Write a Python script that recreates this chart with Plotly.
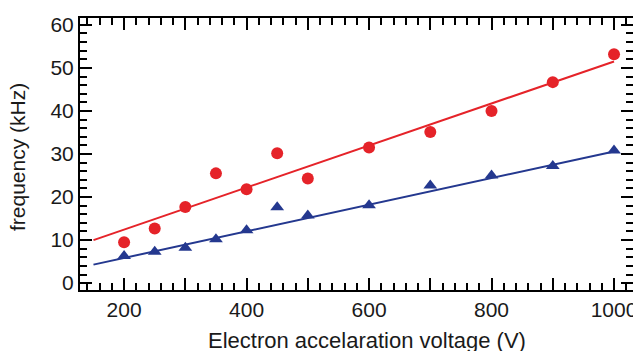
import plotly.graph_objects as go

voltage = [200, 250, 300, 350, 400, 450, 500, 600, 700, 800, 900, 1000]
freq_red = [9.5, 12.7, 17.7, 25.5, 21.8, 30.2, 24.3, 31.5, 35.1, 40.0, 46.7, 53.2]
freq_blue = [6.3, 7.3, 8.2, 10.2, 12.3, 17.6, 15.7, 18.1, 22.7, 25.0, 27.2, 30.8]

fit_x = [150, 1000]
fit_red = [10.0, 51.5]
fit_blue = [4.3, 30.6]

x_tickvals = [200, 300, 400, 500, 600, 700, 800, 900, 1000]
x_ticktext = ["200", "", "400", "", "600", "", "800", "", "1000"]
y_tickvals = [0, 10, 20, 30, 40, 50, 60]

x_title = "Electron accelaration voltage (V)"
y_title = "frequency (kHz)"

RED = "#e52329"
BLUE = "#24388f"
FONT = "Liberation Sans, Arial, sans-serif"
TXT = "#1a1a1a"

fig = go.Figure()
fig.add_trace(go.Scatter(x=fit_x, y=fit_red, mode="lines",
                         line=dict(color=RED, width=2), showlegend=False))
fig.add_trace(go.Scatter(x=fit_x, y=fit_blue, mode="lines",
                         line=dict(color=BLUE, width=2), showlegend=False))
fig.add_trace(go.Scatter(x=voltage, y=freq_red, mode="markers",
                         marker=dict(symbol="circle", size=12, color=RED),
                         showlegend=False))
fig.add_trace(go.Scatter(x=voltage, y=freq_blue, mode="markers",
                         marker=dict(symbol="triangle-up", size=12, color=BLUE),
                         showlegend=False))

axis_common = dict(
    showgrid=False, zeroline=False, showline=True, linecolor="black",
    linewidth=2, mirror="ticks", ticks="inside", ticklen=12, tickwidth=1.5,
    tickcolor="black", tickfont=dict(family=FONT, size=21, color=TXT),
    automargin=False,
)

fig.update_xaxes(
    **axis_common, range=[128, 1031], tickvals=x_tickvals, ticktext=x_ticktext,
    minor=dict(dtick=20, tick0=0, ticks="inside", ticklen=7, tickwidth=1.5,
               tickcolor="black", showgrid=False),
)
fig.update_yaxes(
    **axis_common, range=[-1.6, 61.6], tickvals=y_tickvals,
    minor=dict(dtick=2, tick0=0, ticks="inside", ticklen=7, tickwidth=1.5,
               tickcolor="black", showgrid=False),
)

fig.add_annotation(text=x_title, xref="paper", yref="paper", x=0.519, y=-0.187,
                   xanchor="center", yanchor="middle", showarrow=False,
                   font=dict(family=FONT, size=22, color=TXT))
fig.add_annotation(text=y_title, xref="paper", yref="paper", x=-0.112, y=0.489,
                   xanchor="center", yanchor="middle", showarrow=False,
                   textangle=-90, font=dict(family=FONT, size=21, color=TXT))

fig.update_layout(
    width=633, height=343,
    margin=dict(l=72, r=8, t=10, b=61),
    plot_bgcolor="white", paper_bgcolor="white",
)

fig.write_html("out.html")
